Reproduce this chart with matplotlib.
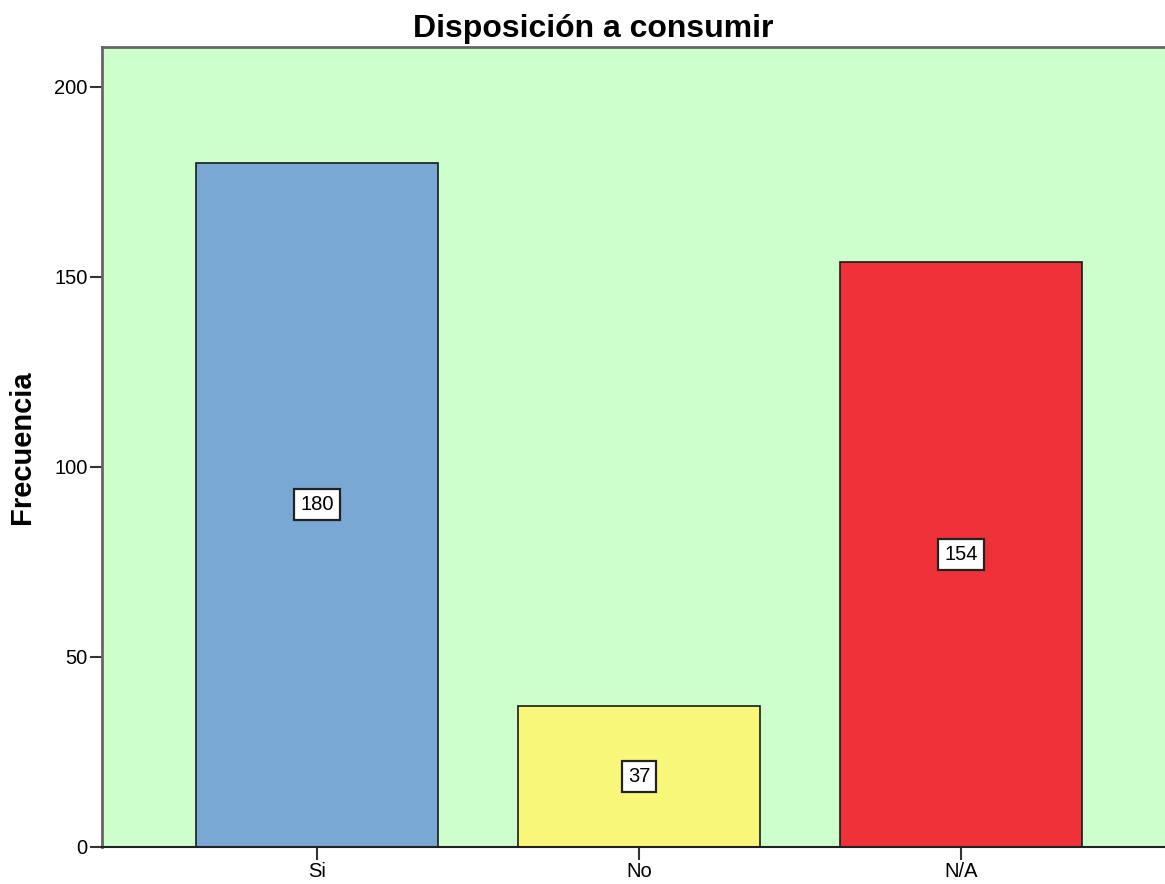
import matplotlib
matplotlib.use("Agg")
import matplotlib.pyplot as plt

categories = ["Si", "No", "N/A"]
counts = [180, 37, 154]
bar_colors = ["#79A8D5", "#F8F77A", "#EF323A"]
y_ticks = [0, 50, 100, 150, 200]

plt.rcParams["font.family"] = ["Liberation Sans", "DejaVu Sans"]

W, H = 1165, 884
fig = plt.figure(figsize=(W / 100, H / 100), dpi=100)
ax = fig.add_axes([102 / W, 1 - 847 / H, 1 - 102 / W, (847 - 47) / H])
ax.set_facecolor("#CCFFCC")

x = list(range(len(categories)))
ax.bar(x, counts, width=0.75, color=bar_colors, edgecolor="#1a1a1a",
       linewidth=1.2, zorder=2)

for xi, v in zip(x, counts):
    ax.text(xi, v / 2, str(v), ha="center", va="center", fontsize=14.5,
            zorder=3,
            bbox=dict(boxstyle="square,pad=0.3", facecolor="white",
                      edgecolor="#222222", linewidth=1.6))

ax.set_xlim(-0.668, 2.634)
ax.set_ylim(0, 210.5)
ax.set_xticks(x)
ax.set_xticklabels(categories, fontsize=14.5)
ax.set_yticks(y_ticks)
ax.set_yticklabels([str(t) for t in y_ticks], fontsize=14.5)
ax.tick_params(axis="both", direction="out", length=9, width=1.5,
               color="#333333")
ax.tick_params(axis="x", pad=2)
ax.tick_params(axis="y", pad=1.5)

for side in ("left", "top"):
    ax.spines[side].set_color("#666666")
    ax.spines[side].set_linewidth(2)
ax.spines["bottom"].set_color("#222222")
ax.spines["bottom"].set_linewidth(1.5)
ax.spines["right"].set_visible(False)

fig.text(22 / W, 1 - 447 / H, "Frecuencia", rotation=90, ha="center",
         va="center", fontsize=21, fontweight="bold")
fig.text(593 / W, 1 - 37 / H, "Disposición a consumir", ha="center",
         va="baseline", fontsize=23, fontweight="bold")

fig.savefig("out.png", dpi=100)
